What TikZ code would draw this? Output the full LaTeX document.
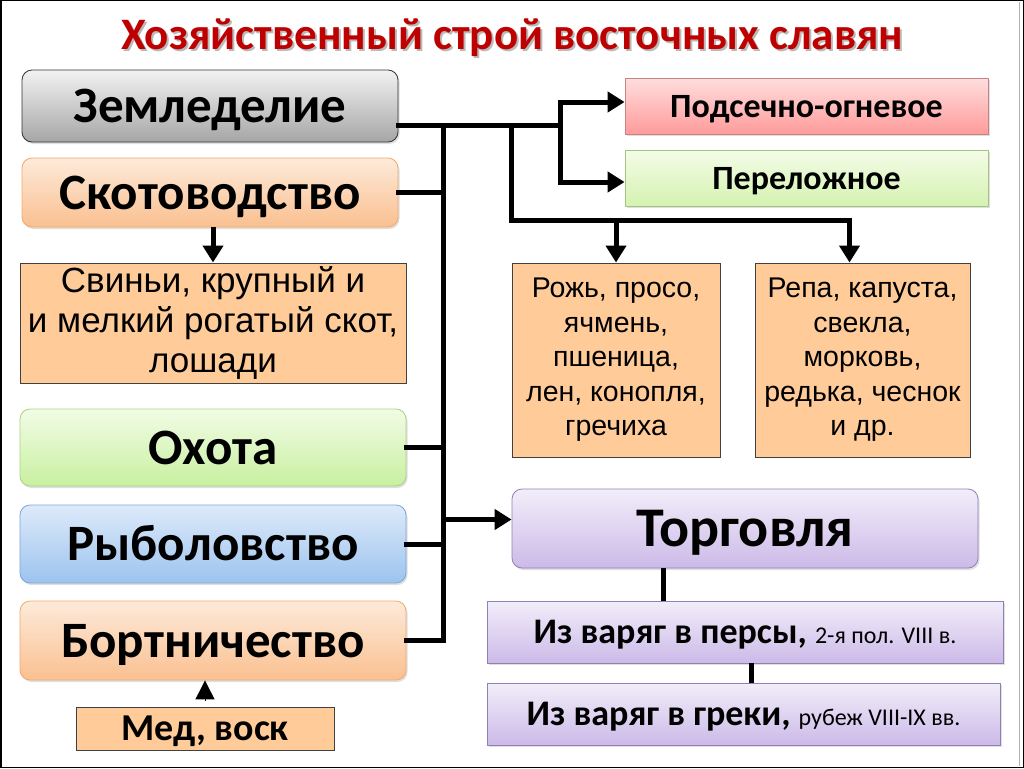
\documentclass[tikz,border=0pt]{standalone}
\usepackage{fontspec}
\setmainfont{Carlito}
\newfontfamily\arialf{Liberation Sans}
\usetikzlibrary{arrows.meta,shadows}
\definecolor{titlered}{RGB}{190,0,0}
\definecolor{peach}{RGB}{255,204,153}
\definecolor{boxline}{RGB}{64,64,64}
\definecolor{orline}{RGB}{240,170,110}
\definecolor{ortop}{RGB}{253,234,218}
\definecolor{orbot}{RGB}{250,192,144}
\definecolor{grline}{RGB}{170,210,130}
\definecolor{grtop}{RGB}{242,252,230}
\definecolor{grbot}{RGB}{200,240,160}
\definecolor{blline}{RGB}{125,165,215}
\definecolor{bltop}{RGB}{222,234,250}
\definecolor{blbot}{RGB}{156,195,238}
\definecolor{pkline}{RGB}{200,130,130}
\definecolor{pktop}{RGB}{255,222,222}
\definecolor{pkbot}{RGB}{255,155,155}
\definecolor{lgline}{RGB}{165,195,130}
\definecolor{lgtop}{RGB}{244,252,232}
\definecolor{lgbot}{RGB}{212,242,176}
\definecolor{lvline}{RGB}{145,128,180}
\definecolor{lvtop}{RGB}{242,238,250}
\definecolor{lvbot}{RGB}{204,186,232}
\begin{document}
\begin{tikzpicture}[x=1pt,y=-1pt,
  conn/.style={line width=5pt,line join=miter,line cap=rect},
  arr/.style={line width=5pt,line join=miter,-{Triangle[length=17pt,width=20pt]}},
  grad/.style 2 args={top color=#1,bottom color=#2},
  capc/.style={text height=#1,text depth=0pt},
  rbox/.style={rounded corners=10pt,inner sep=0pt,line width=0.8pt,align=center,capc=33pt,
     drop shadow={opacity=0.25,shadow xshift=1.5pt,shadow yshift=-2pt},
     font=\bfseries\fontsize{51}{55}\selectfont},
  sbox/.style={inner sep=0pt,line width=0.8pt,align=center,
     drop shadow={opacity=0.25,shadow xshift=1.5pt,shadow yshift=-2pt}},
  pbox/.style={inner sep=0pt,draw=boxline,line width=1pt,fill=peach,align=center},
]
\useasboundingbox (0,0) rectangle (1024,768);
\draw[line width=1.5pt,black] (0.75,0.75) rectangle (1023.25,767.25);
\draw[line width=0.8pt,gray!60] (1019,2) -- (1019,766);

% title
\node[text=black!45,opacity=0.6,font=\bfseries\fontsize{45}{50}\selectfont] at (514,40) {Хозяйственный строй восточных славян};
\node (title) [text=titlered,font=\bfseries\fontsize{45}{50}\selectfont] at (512,38) {Хозяйственный строй восточных славян};

% left column
\node (zem) [rbox,draw=black!80,grad={black!5}{black!35},minimum width=376pt,minimum height=72pt] at (210,106) {Земледелие};
\node (skot) [rbox,draw=orline,grad={ortop}{orbot},minimum width=376pt,minimum height=69pt] at (210,192.5) {Скотоводство};
\node (svin) [pbox,minimum width=386pt,minimum height=120pt,font=\arialf\fontsize{35}{40}\selectfont] at (213,323) {Свиньи, крупный и\\и мелкий рогатый скот,\\лошади};
\node (ohota) [rbox,draw=grline,grad={grtop}{grbot},minimum width=386pt,minimum height=77pt] at (213,447.5) {Охота};
\node (ryb) [rbox,draw=blline,grad={bltop}{blbot},minimum width=386pt,minimum height=78pt] at (213,544) {Рыболовство};
\node (bort) [rbox,draw=orline,grad={ortop}{orbot},minimum width=386pt,minimum height=79pt] at (213,640.5) {Бортничество};
\node (med) [pbox,capc=24.5pt,minimum width=258pt,minimum height=43pt,font=\bfseries\fontsize{38}{40}\selectfont] at (205,728.5) {Мед, воск};

% right column
\node (pods) [sbox,capc=22pt,draw=pkline,grad={pktop}{pkbot},minimum width=363pt,minimum height=56pt,font=\bfseries\fontsize{34}{38}\selectfont] at (806.5,106) {Подсечно-огневое};
\node (perel) [sbox,capc=22pt,draw=lgline,grad={lgtop}{lgbot},minimum width=363pt,minimum height=56pt,font=\bfseries\fontsize{34}{38}\selectfont] at (806.5,178) {Переложное};
\node (rozh) [pbox,minimum width=208pt,minimum height=194pt,font=\arialf\fontsize{28.5}{34.5}\selectfont] at (616,360) {Рожь, просо,\\ячмень,\\пшеница,\\лен, конопля,\\гречиха};
\node (repa) [pbox,minimum width=215pt,minimum height=194pt,font=\arialf\fontsize{28.5}{34.5}\selectfont] at (862.5,360) {Репа, капуста,\\свекла,\\морковь,\\редька, чеснок\\и др.};
\node (torg) [rbox,capc=36pt,draw=lvline,grad={lvtop}{lvbot},minimum width=466pt,minimum height=79pt,font=\bfseries\fontsize{56}{60}\selectfont] at (745,528.5) {Торговля};
\node (pers) [sbox,capc=23pt,draw=lvline,grad={lvtop}{lvbot},minimum width=516pt,minimum height=62pt,font=\fontsize{36}{40}\selectfont] at (745,632) {{\bfseries Из варяг в персы,} {\fontsize{24}{28}\selectfont 2-я пол. VIII в.}};
\node (grek) [sbox,capc=23pt,draw=lvline,grad={lvtop}{lvbot},minimum width=513pt,minimum height=62pt,font=\fontsize{36}{40}\selectfont] at (743.5,714) {{\bfseries Из варяг в греки,} {\fontsize{24}{28}\selectfont рубеж VIII-IX вв.}};

% junctions
\coordinate (b1) at (443,125);
\coordinate (j1) at (560,125);
\coordinate (j2) at (511,125);
\coordinate (j3) at (511,220);

% connectors
\draw[conn] ([yshift=-19pt]zem.east) -- (j1);
\draw[conn] (b1) -- (b1 |- bort.east) -- (bort.east);
\draw[conn] (skot.east) -- (skot.east -| b1);
\draw[conn] (ohota.east) -- (ohota.east -| b1);
\draw[conn] (ryb.east) -- (ryb.east -| b1);
\draw[arr] ([yshift=9pt]torg.west -| b1) -- ([yshift=9pt]torg.west);
\draw[arr] (j1) |- ([yshift=4pt]pods.west);
\draw[arr] (j1) |- ([yshift=-4pt]perel.west);
\draw[conn] (j2) -- (j3) -- ([xshift=-13pt]repa.north |- j3);
\draw[arr] (rozh.north |- j3) -- (rozh.north);
\draw[arr] ([xshift=-13pt]repa.north |- j3) -- ([xshift=-13pt]repa.north);
\draw[arr] (svin.north |- skot.south) -- (svin.north);
\draw[-{Triangle[length=19pt,width=19pt]},line width=1pt,shorten <=6pt] (med.north) -- (med.north |- bort.south);
\draw[conn,line cap=butt] ([xshift=-82pt]torg.south) -- ([xshift=-82pt]torg.south |- pers.north);
\draw[conn,line cap=butt] ([xshift=6pt]pers.south) -- ([xshift=6pt]pers.south |- grek.north);
\end{tikzpicture}
\end{document}
